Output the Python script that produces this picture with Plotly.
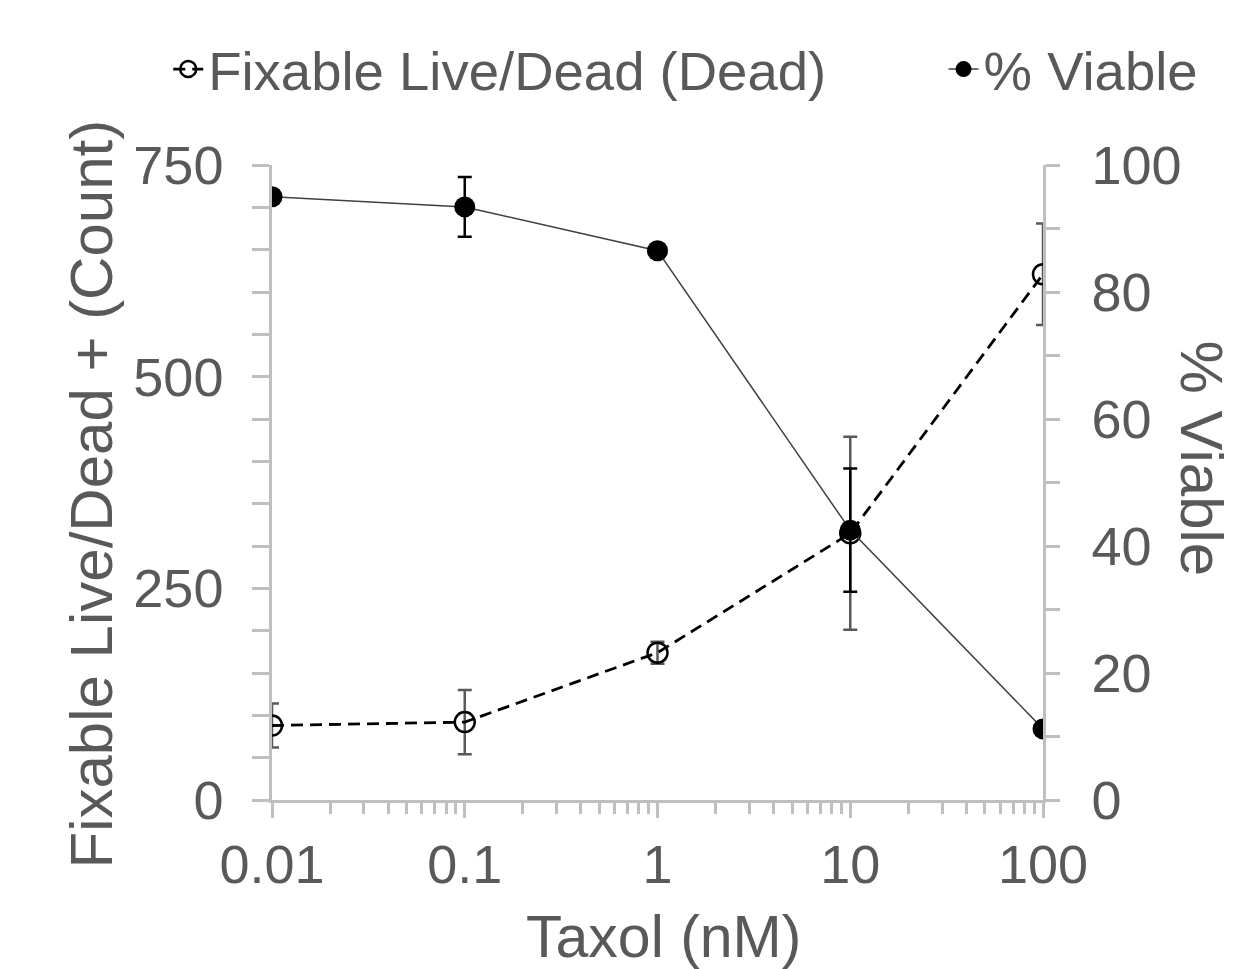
import plotly.graph_objects as go

taxol_nM = [0.01, 0.1, 1, 10, 100]
dead_count = [88, 92, 174, 315, 621]
dead_err = [26, 38, 13, 114, 60]
viable_pct = [95.0, 93.4, 86.5, 42.5, 11.2]
viable_err = [0.4, 4.7, 1.0, 9.7, 0.4]

x_ticks = [0.01, 0.1, 1, 10, 100]
x_ticktext = ["0.01", "0.1", "1", "10", "100"]

FONT = "Liberation Sans, Arial, sans-serif"
TXT = "#595959"
AX = "#BFBFBF"

fig = go.Figure()

fig.add_trace(go.Scatter(
    x=taxol_nM, y=dead_count, name="Fixable Live/Dead (Dead)",
    mode="lines+markers",
    line=dict(color="black", width=2.8, dash="12px,7px"),
    marker=dict(symbol="circle-open", size=20, color="black", line=dict(width=2.5)),
    error_y=dict(type="data", array=dead_err, color="#595959", thickness=2.5, width=7),
    legend="legend", yaxis="y",
))
fig.add_trace(go.Scatter(
    x=taxol_nM, y=viable_pct, name="% Viable",
    mode="lines+markers",
    line=dict(color="#404040", width=1.5),
    marker=dict(symbol="circle", size=21, color="black"),
    error_y=dict(type="data", array=viable_err, color="black", thickness=2.5, width=7),
    legend="legend2", yaxis="y2",
))

fig.update_layout(
    width=1238, height=969,
    margin=dict(l=272, r=195, t=165, b=169, autoexpand=False),
    paper_bgcolor="white", plot_bgcolor="white",
    font=dict(family=FONT, color=TXT, size=54),
    showlegend=True,
    legend=dict(orientation="h", x=-0.1346, y=1.151, xanchor="left", yanchor="middle",
                font=dict(size=54.5, color=TXT), bgcolor="rgba(0,0,0,0)"),
    legend2=dict(orientation="h", x=0.871, y=1.151, xanchor="left", yanchor="middle",
                 font=dict(size=54.5, color=TXT), bgcolor="rgba(0,0,0,0)"),
    xaxis=dict(
        type="log", range=[-2, 2],
        tickmode="array", tickvals=x_ticks, ticktext=x_ticktext,
        ticks="outside", ticklen=15, tickwidth=2.5, tickcolor=AX,
        showline=True, linecolor=AX, linewidth=2.5,
        showgrid=False, zeroline=False,
        tickfont=dict(size=54, color=TXT), ticklabelstandoff=0,
        minor=dict(ticks="outside", ticklen=11, tickwidth=2.5, tickcolor=AX, dtick="D1", showgrid=False),
    ),
    yaxis=dict(
        range=[0, 750], dtick=250,
        ticks="outside", ticklen=17, tickwidth=2.5, tickcolor=AX,
        showline=True, linecolor=AX, linewidth=2.5,
        showgrid=False, zeroline=False,
        tickfont=dict(size=54, color=TXT), ticklabelstandoff=18,
        minor=dict(ticks="outside", ticklen=17, tickwidth=2.5, tickcolor=AX, dtick=50, showgrid=False),
    ),
    yaxis2=dict(
        overlaying="y", side="right", range=[0, 100], dtick=20,
        ticks="outside", ticklen=14, tickwidth=2.5, tickcolor=AX,
        showline=True, linecolor=AX, linewidth=2.5,
        showgrid=False, zeroline=False,
        tickfont=dict(size=54, color=TXT), ticklabelstandoff=21,
        minor=dict(ticks="outside", ticklen=14, tickwidth=2.5, tickcolor=AX, dtick=10, showgrid=False),
    ),
    annotations=[
        dict(text="Taxol (nM)", xref="paper", yref="paper", x=0.508, y=-0.216,
             xanchor="center", yanchor="middle", showarrow=False, font=dict(size=59, color=TXT)),
        dict(text="Fixable Live/Dead + (Count)", xref="paper", yref="paper", x=-0.234, y=0.482,
             xanchor="center", yanchor="middle", textangle=-90, showarrow=False,
             font=dict(size=60, color=TXT)),
        dict(text="% Viable", xref="paper", yref="paper", x=1.2529, y=0.537,
             xanchor="right", yanchor="middle", textangle=90, showarrow=False,
             font=dict(size=60, color=TXT)),
    ],
)

fig.write_html("out.html", config={"displayModeBar": False},
               post_script="document.body.style.margin='0';document.body.style.overflow='hidden';")
